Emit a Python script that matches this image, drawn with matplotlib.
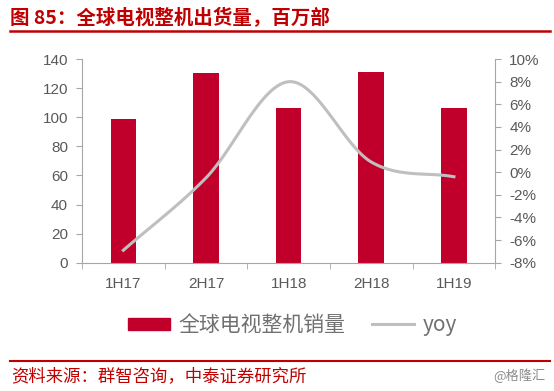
import numpy as np
import matplotlib
matplotlib.use("Agg")
import matplotlib.pyplot as plt
from matplotlib.patches import Patch
from matplotlib.lines import Line2D

categories = ["1H17", "2H17", "1H18", "2H18", "1H19"]
shipments = [98.6, 130.2, 106.5, 131.3, 106.1]   # 百万部
yoy = [-6.9, -0.5, 8.0, 0.9, -0.4]               # %

bar_color = "#C0002A"
line_color = "#BFBFBF"
axis_color = "#A6A6A6"
text_color = "#595959"
red = "#C00000"

plt.rcParams["font.family"] = ["Liberation Sans", "Noto Sans CJK SC", "DejaVu Sans"]


def smooth(xs, ys, n=30):
    # Catmull-Rom curve through the points, like Excel's smoothed line
    xs = np.asarray(xs, float)
    ys = np.asarray(ys, float)
    px = np.concatenate([[2 * xs[0] - xs[1]], xs, [2 * xs[-1] - xs[-2]]])
    py = np.concatenate([[2 * ys[0] - ys[1]], ys, [2 * ys[-1] - ys[-2]]])
    ox, oy = [], []
    for i in range(1, len(px) - 2):
        t = np.linspace(0, 1, n)
        for p, out in ((px, ox), (py, oy)):
            p0, p1, p2, p3 = p[i - 1], p[i], p[i + 1], p[i + 2]
            out.extend(0.5 * (2 * p1 + (-p0 + p2) * t
                              + (2 * p0 - 5 * p1 + 4 * p2 - p3) * t ** 2
                              + (-p0 + 3 * p1 - 3 * p2 + p3) * t ** 3))
    return np.array(ox), np.array(oy)


fig = plt.figure(figsize=(5.54, 3.91), dpi=100)
ax = fig.add_axes([0.148, 0.328, 0.746, 0.521])
x = np.arange(len(categories))
ax.bar(x, shipments, width=0.31, color=bar_color, zorder=2)
ax.set_xlim(-0.5, len(categories) - 0.5)
ax.set_ylim(0, 140)
ax.set_yticks(range(0, 141, 20))
ax.set_xticks(x)
ax.set_xticklabels(categories)
ax.set_xticks(np.arange(-0.5, len(categories), 1), minor=True)
ax.tick_params(axis="x", which="major", length=0, pad=10, labelsize=11, labelcolor=text_color)
ax.tick_params(axis="x", which="minor", length=4, color=axis_color)
ax.tick_params(axis="y", length=4, color=axis_color, labelsize=11, labelcolor=text_color, pad=6)
for s in ["top", "right"]:
    ax.spines[s].set_visible(False)
for s in ["left", "bottom"]:
    ax.spines[s].set_color(axis_color)

ax2 = ax.twinx()
sx, sy = smooth(x, yoy)
ax2.plot(sx, sy, color=line_color, lw=2.2, zorder=3)
ax2.set_ylim(-8, 10)
ax2.set_yticks(range(-8, 11, 2))
ax2.set_yticklabels([f"{v}%" for v in range(-8, 11, 2)])
ax2.tick_params(axis="y", length=4, color=axis_color, labelsize=11, labelcolor=text_color, pad=6)
for s in ["top", "left", "bottom"]:
    ax2.spines[s].set_visible(False)
ax2.spines["right"].set_color(axis_color)

handles = [Patch(color=bar_color), Line2D([], [], color=line_color, lw=2.2)]
fig.legend(handles, ["全球电视整机销量", "yoy"], loc="center", bbox_to_anchor=(0.528, 0.168),
           ncol=2, frameon=False, labelcolor="#707070",
           handlelength=2.0, handleheight=0.55, handletextpad=0.4, columnspacing=1.3,
           prop={"family": ["Noto Sans CJK SC"], "size": 15})

fig.text(0.018, 0.955, "图 85：全球电视整机出货量，百万部", color=red, fontsize=14,
         fontweight="bold", family=["Noto Sans CJK SC"], va="center")
fig.add_artist(Line2D([0.018, 0.993], [0.92, 0.92], color=red, lw=1.8, transform=fig.transFigure))
fig.add_artist(Line2D([0.018, 0.993], [0.078, 0.078], color=red, lw=1.5, transform=fig.transFigure))
fig.text(0.02, 0.038, "资料来源：群智咨询，中泰证券研究所", color=red, fontsize=12.5,
         family=["Noto Sans CJK SC"], va="center")
fig.text(0.985, 0.038, "@格隆汇", color="#8C8C8C", fontsize=9.5,
         family=["Noto Sans CJK SC"], va="center", ha="right")

fig.savefig("out.png", dpi=100)
